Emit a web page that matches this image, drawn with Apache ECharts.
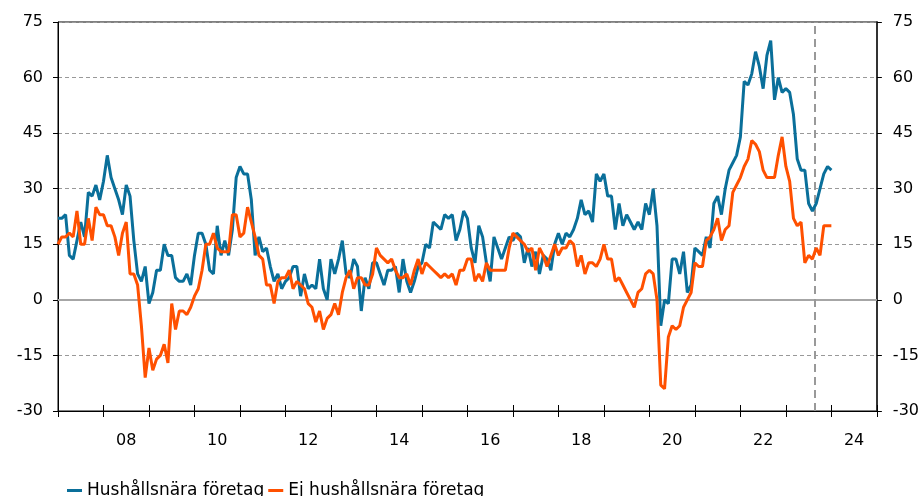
<!DOCTYPE html>
<html lang="sv">
<head>
<meta charset="UTF-8">
<title>Hushållsnära företag</title>
<script src="https://cdn.jsdelivr.net/npm/echarts@6/dist/echarts.min.js"></script>
<style>
    html, body { margin: 0; padding: 0; background: #fff; }
    #chart { width: 922px; height: 496px; }
</style>
</head>
<body>
<div id="chart"></div>
<script>
// monthly values, first point = Jan 2007
var startYear = 2007;
var forecastMonth = 200; // dashed line, Sep 2023 (months after Jan 2007)

var hushallsnara = [
    22, 22, 23, 12, 11, 16, 21, 17, 29, 28, 31, 27, 32, 39, 33, 30, 27, 23, 31, 28, 16, 7, 5, 9, -1, 2, 8, 8, 15, 12, 12, 6, 5, 5, 7, 4,
    12, 18, 18, 15, 8, 7, 20, 12, 16, 12, 19, 33, 36, 34, 34, 27, 12, 17, 13, 14, 9, 5, 7, 3, 5, 6, 9, 9, 1, 7, 3, 4, 3, 11,
    3, 0, 11, 7, 11, 16, 7, 6, 11, 9, -3, 6, 3, 10, 10, 7, 4, 8, 8, 9, 2, 11, 5, 2, 5, 9, 10, 15, 14, 21, 20, 19,
    23, 22, 23, 16, 19, 24, 22, 14, 10, 20, 17, 10, 5, 17, 14, 11, 14, 17, 16, 18, 17, 10, 14, 9, 13, 7, 12, 11, 8, 15, 18, 15, 18, 17,
    19, 22, 27, 23, 24, 21, 34, 32, 34, 28, 28, 19, 26, 20, 23, 21, 19, 21, 19, 26, 23, 30, 20, -7, 0, -1, 11, 11, 7, 13, 2, 4, 14, 13, 12, 17,
    14, 26, 28, 23, 30, 35, 37, 39, 44, 59, 58, 61, 67, 63, 57, 66, 70, 54, 60, 56, 57, 56, 50, 38, 35, 35, 26, 24, 26, 30, 34, 36, 35
];

var ejHushallsnara = [
    15, 17, 17, 18, 17, 24, 15, 15, 22, 16, 25, 23, 23, 20, 20, 17, 12, 18, 21, 7, 7, 4, -7, -21, -13, -19, -16, -15, -12, -17, -1, -8, -3, -3, -4, -2,
    1, 3, 8, 15, 15, 18, 14, 13, 13, 13, 23, 23, 17, 18, 25, 21, 17, 12, 11, 4, 4, -1, 5, 6, 6, 8, 3, 5, 4, 3, -1, -2, -6, -3,
    -8, -5, -4, -1, -4, 2, 6, 8, 3, 6, 6, 4, 4, 7, 14, 12, 11, 10, 11, 8, 6, 6, 7, 4, 8, 11, 7, 10, 9, 8, 7, 6,
    7, 6, 7, 4, 8, 8, 11, 11, 5, 7, 5, 10, 8, 8, 8, 8, 8, 14, 18, 17, 16, 15, 13, 14, 8, 14, 12, 9, 12, 15, 12, 14, 14, 16,
    15, 9, 12, 7, 10, 10, 9, 11, 15, 11, 11, 5, 6, 4, 2, 0, -2, 2, 3, 7, 8, 7, 0, -23, -24, -10, -7, -8, -7, -2, 0, 2, 10, 9, 9, 16,
    17, 19, 22, 16, 19, 20, 29, 31, 33, 36, 38, 43, 42, 40, 35, 33, 33, 33, 39, 44, 36, 32, 22, 20, 21, 10, 12, 11, 14, 12, 20, 20, 20
];

var yearLabels = ['07', '08', '09', '10', '11', '12', '13', '14', '15', '16', '17', '18', '19', '20', '21', '22', '23', '24'];
var seriesNames = ['Hushållsnära företag', 'Ej hushållsnära företag'];

function toPoints(arr) {
    return arr.map(function (v, i) { return [startYear + i / 12, v]; });
}

var chart = echarts.init(document.getElementById('chart'));
var axisFont = { fontFamily: 'DejaVu Sans', fontSize: 16, color: '#000' };

var yAxisBase = {
    type: 'value',
    min: -30,
    max: 75,
    interval: 15,
    axisLine: { show: true, lineStyle: { color: '#000', width: 1 } },
    axisTick: { show: true, length: 5, lineStyle: { color: '#000' } },
    splitLine: { show: false }
};

var option = {
    animation: false,
    grid: {
        left: 58, right: 45, top: 22, bottom: 85,
        show: true, borderColor: '#000', borderWidth: 1
    },
    legend: {
        left: 62,
        top: 477,
        icon: 'rect',
        itemWidth: 15,
        itemHeight: 3,
        itemGap: 4,
        textStyle: { fontFamily: 'DejaVu Sans', fontSize: 17, color: '#000' },
        data: seriesNames
    },
    xAxis: [
        {
            // data axis, year ticks pointing down
            type: 'value',
            min: startYear,
            max: startYear + yearLabels.length,
            interval: 1,
            position: 'bottom',
            axisLine: { show: true, onZero: false, lineStyle: { color: '#000', width: 1 } },
            axisTick: { show: true, length: 6, lineStyle: { color: '#000' } },
            axisLabel: { show: false },
            splitLine: { show: false }
        },
        {
            // same ticks pointing up
            type: 'value',
            min: startYear,
            max: startYear + yearLabels.length,
            interval: 1,
            position: 'bottom',
            axisLine: { show: false, onZero: false },
            axisTick: { show: true, inside: true, length: 6, lineStyle: { color: '#000' } },
            axisLabel: { show: false },
            splitLine: { show: false }
        },
        {
            // labels centred in each year
            type: 'category',
            data: yearLabels,
            boundaryGap: true,
            position: 'bottom',
            axisLine: { show: false, onZero: false },
            axisTick: { show: false },
            axisLabel: Object.assign({
                margin: 22,
                interval: function (idx) { return idx % 2 === 1; }
            }, axisFont),
            splitLine: { show: false }
        }
    ],
    yAxis: [
        Object.assign({}, yAxisBase, {
            position: 'left',
            axisLabel: Object.assign({ margin: 15 }, axisFont),
            splitLine: { show: true, lineStyle: { color: '#999', type: [4, 3], width: 1.2 } }
        }),
        Object.assign({}, yAxisBase, {
            position: 'right',
            axisLine: { show: true, lineStyle: { color: '#333', width: 2 } },
            axisLabel: Object.assign({ margin: 16 }, axisFont)
        })
    ],
    series: [
        {
            // zero line and forecast marker, drawn under the data
            type: 'line',
            data: [],
            silent: true,
            markLine: {
                z: 1,
                silent: true,
                symbol: 'none',
                label: { show: false },
                data: [
                    { yAxis: 0, lineStyle: { color: '#a6a6a6', type: 'solid', width: 2 } },
                    { xAxis: startYear + (forecastMonth - 0.5) / 12, lineStyle: { color: '#999', type: [8, 5], width: 2 } }
                ]
            }
        },
        {
            name: seriesNames[0],
            type: 'line',
            z: 3,
            data: toPoints(hushallsnara),
            showSymbol: false,
            color: '#0A6F9A',
            lineStyle: { width: 3, color: '#0A6F9A' }
        },
        {
            name: seriesNames[1],
            type: 'line',
            z: 4,
            data: toPoints(ejHushallsnara),
            showSymbol: false,
            color: '#FF5000',
            lineStyle: { width: 3, color: '#FF5000' }
        }
    ]
};
chart.setOption(option);
</script>
</body>
</html>
